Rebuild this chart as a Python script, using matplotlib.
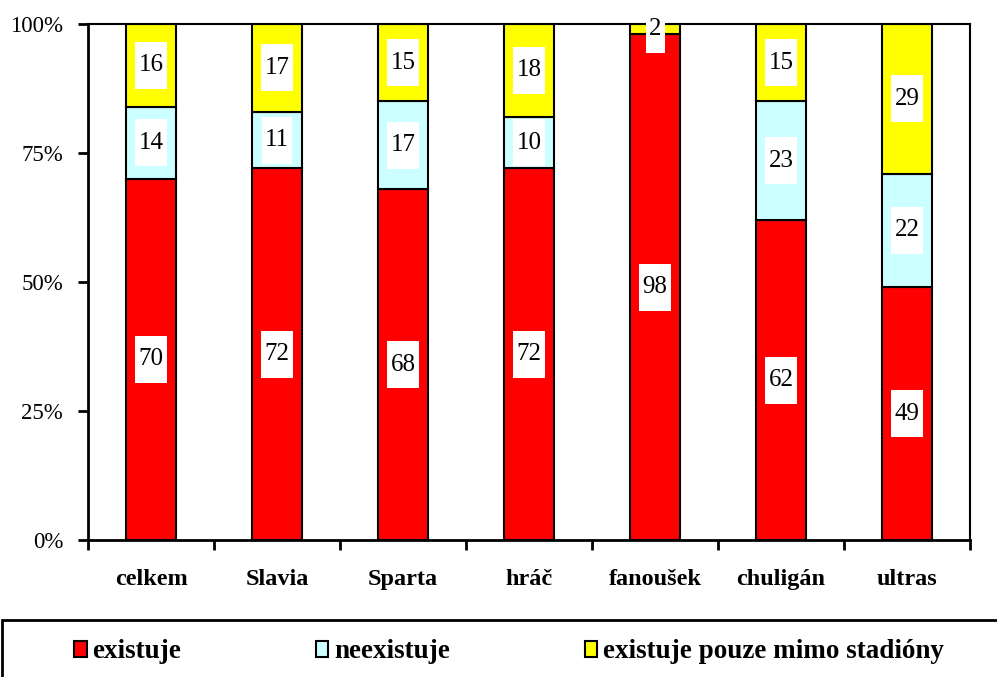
import matplotlib
matplotlib.use('Agg')
import matplotlib.pyplot as plt
from matplotlib.patches import Rectangle
from matplotlib.path import Path
import numpy as np

categories = ['celkem', 'Slavia', 'Sparta', 'hráč', 'fanoušek', 'chuligán', 'ultras']
existuje = [70, 72, 68, 72, 98, 62, 49]
neexistuje = [14, 11, 17, 10, 0, 23, 22]
mimo = [16, 17, 15, 18, 2, 15, 29]
series_names = ['existuje', 'neexistuje', 'existuje pouze mimo stadióny']
colors = ['#FF0000', '#CCFFFF', '#FFFF00']
yticks = [0, 25, 50, 75, 100]

plt.rcParams['font.family'] = ['Liberation Serif', 'DejaVu Serif']


def tall_box(x0, y0, width, height, mutation_size):
    # label box: little padding at the sides, more above and below
    px = 0.13 * mutation_size
    py = 0.5 * mutation_size
    x0, x1 = x0 - px, x0 + width + px
    y0, y1 = y0 - py, y0 + height + py
    return Path([(x0, y0), (x1, y0), (x1, y1), (x0, y1), (x0, y0)], closed=True)


dpi = 100
fig = plt.figure(figsize=(997 / dpi, 677 / dpi), dpi=dpi)
ax = fig.add_axes([88 / 997, 1 - 540 / 677, (970 - 88) / 997, (540 - 24) / 677])

xs = np.arange(len(categories))
bottom = np.zeros(len(categories))
for vals, name, col in zip([existuje, neexistuje, mimo], series_names, colors):
    vals = np.array(vals, dtype=float)
    ax.bar(xs, vals, bottom=bottom, width=0.4, color=col, edgecolor='black',
           linewidth=1.5, label=name, zorder=2)
    for x, v, b in zip(xs, vals, bottom):
        if v > 0:
            ax.text(x, b + v / 2, '%d' % v, ha='center', va='center', fontsize=18,
                    bbox=dict(boxstyle=tall_box, fc='white', ec='none'),
                    zorder=3, clip_on=False)
    bottom += vals

ax.set_xlim(-0.5, len(categories) - 0.5)
ax.set_ylim(0, 100)
ax.set_yticks(yticks)
ax.set_yticklabels(['%d%%' % t for t in yticks], fontsize=16.5)
ax.tick_params(axis='y', direction='out', length=7, width=2, pad=11)

ax.set_xticks(np.arange(len(categories) + 1) - 0.5)
ax.set_xticklabels([])
ax.set_xticks(xs, minor=True)
ax.set_xticklabels(categories, minor=True, fontsize=17.5, fontweight='bold')
ax.tick_params(axis='x', which='major', direction='out', length=7, width=2)
ax.tick_params(axis='x', which='minor', length=0, pad=21)

for s in ['left', 'bottom']:
    ax.spines[s].set_linewidth(2)
for s in ['top', 'right']:
    ax.spines[s].set_linewidth(1.5)

# legend box at the bottom
fig.patches.append(Rectangle((2 / 997, -0.1), 1.1, 0.1 + (677 - 620) / 677,
                             transform=fig.transFigure, fill=False,
                             edgecolor='black', linewidth=2))
handles, labels = ax.get_legend_handles_labels()
leg = fig.legend(handles, labels, loc='center', bbox_to_anchor=(509 / 997, 1 - 652 / 677),
                 ncol=3, frameon=False, handlelength=0.45, handleheight=0.55,
                 handletextpad=0.2, columnspacing=5.0,
                 prop={'size': 19.5, 'weight': 'bold'})

fig.savefig('out.png', dpi=dpi)
